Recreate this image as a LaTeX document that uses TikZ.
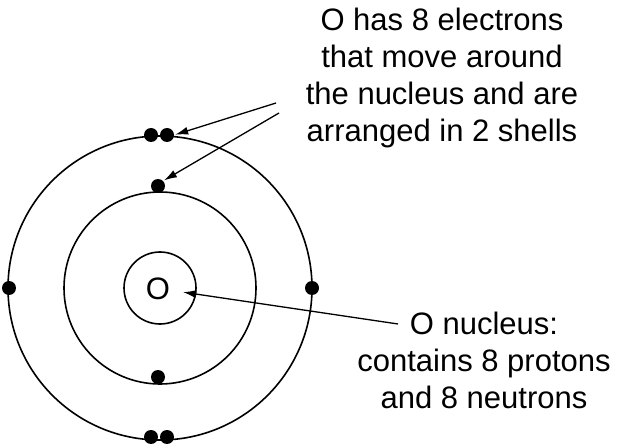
\documentclass[tikz,border=0pt]{standalone}
\usepackage{fontspec}
\setmainfont{Liberation Sans}
\usetikzlibrary{arrows.meta}
\begin{document}
\begin{tikzpicture}[x=1pt,y=-1pt,
  orb/.style={draw,line width=1.6pt},
  el/.style={circle,fill=black,inner sep=0pt,minimum size=14pt},
  lbl/.style={align=center,font=\fontsize{31}{37}\selectfont,inner sep=0pt},
  arr/.style={-{Latex[length=13pt,width=8pt]},line width=1.3pt,shorten >=1pt}]
\useasboundingbox (0,0) rectangle (621,446);
\coordinate (c) at (160,288);
\draw[orb] (c) circle (152);
\draw[orb] (c) circle (96);
\draw[orb] (c) circle (36);
\node[font=\fontsize{31}{34}\selectfont] (nuc) at (158,289) {O};
\node[el] (e1) at (151,135) {};
\node[el] (e2) at (167,135) {};
\node[el] (e3) at (151,437) {};
\node[el] (e4) at (167,437) {};
\node[el] (e5) at (9,288) {};
\node[el] (e6) at (312,288) {};
\node[el] (e7) at (158,186) {};
\node[el] (e8) at (158,377) {};
\node[lbl] (t1) at (442,78) {O has 8 electrons\\that move around\\the nucleus and are\\arranged in 2 shells};
\node[lbl] (t2) at (484,360) {O nucleus:\\contains 8 protons\\and 8 neutrons};
\coordinate (a1) at (276,103);
\coordinate (a2) at (279,113);
\coordinate (a3) at (398,324);
\draw[arr] (a1) -- (e2.east);
\draw[arr] (a2) -- (e7.north east);
\draw[arr] (a3) -- (182,292);
\end{tikzpicture}
\end{document}
